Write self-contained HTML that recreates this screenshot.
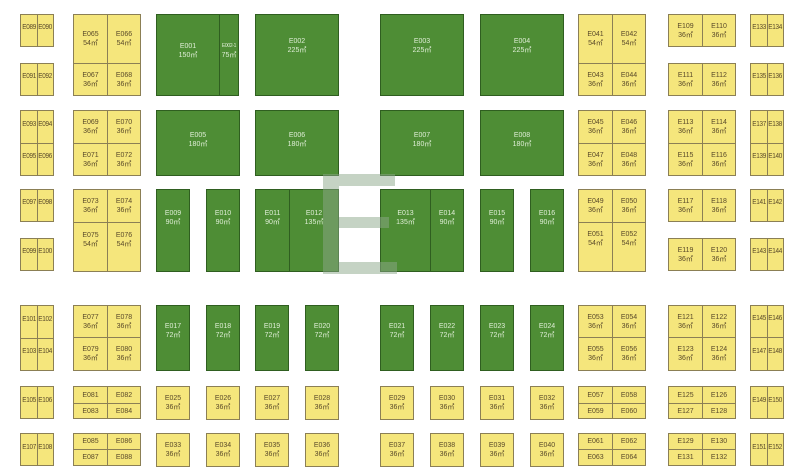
<!DOCTYPE html>
<html><head><meta charset="utf-8">
<style>
html,body{margin:0;padding:0;background:#fff;}
body{width:800px;height:472px;position:relative;overflow:hidden;font-family:"Liberation Sans",sans-serif;}
.c{position:absolute;box-sizing:border-box;display:flex;flex-direction:column;align-items:center;justify-content:center;text-align:center;font-size:7px;line-height:9px;white-space:nowrap;}
.y{background:#f5e67c;border:1px solid #8b7f55;color:#5a4a2a;}
.g{background:#4e8d35;border:1px solid #2f5e20;color:#dfeed6;}
.n{font-size:7.5px;letter-spacing:-0.3px;}
.n span{display:inline-block;transform:scaleX(0.85);}
svg{position:absolute;left:0;top:0;}
</style></head><body>

<!-- Column A -->
<div class="c y n" style="left:20px;top:14px;width:18px;height:33px;padding-bottom:8px"><span>E089</span></div>
<div class="c y n" style="left:37px;top:14px;width:17px;height:33px;padding-bottom:8px"><span>E090</span></div>
<div class="c y n" style="left:20px;top:63px;width:18px;height:33px;padding-bottom:8px"><span>E091</span></div>
<div class="c y n" style="left:37px;top:63px;width:17px;height:33px;padding-bottom:8px"><span>E092</span></div>
<div class="c y n" style="left:20px;top:110px;width:18px;height:34px;padding-bottom:8px"><span>E093</span></div>
<div class="c y n" style="left:37px;top:110px;width:17px;height:34px;padding-bottom:8px"><span>E094</span></div>
<div class="c y n" style="left:20px;top:143px;width:18px;height:33px;padding-bottom:8px"><span>E095</span></div>
<div class="c y n" style="left:37px;top:143px;width:17px;height:33px;padding-bottom:8px"><span>E096</span></div>
<div class="c y n" style="left:20px;top:189px;width:18px;height:33px;padding-bottom:8px"><span>E097</span></div>
<div class="c y n" style="left:37px;top:189px;width:17px;height:33px;padding-bottom:8px"><span>E098</span></div>
<div class="c y n" style="left:20px;top:238px;width:18px;height:33px;padding-bottom:8px"><span>E099</span></div>
<div class="c y n" style="left:37px;top:238px;width:17px;height:33px;padding-bottom:8px"><span>E100</span></div>
<div class="c y n" style="left:20px;top:305px;width:18px;height:34px;padding-bottom:8px"><span>E101</span></div>
<div class="c y n" style="left:37px;top:305px;width:17px;height:34px;padding-bottom:8px"><span>E102</span></div>
<div class="c y n" style="left:20px;top:338px;width:18px;height:33px;padding-bottom:8px"><span>E103</span></div>
<div class="c y n" style="left:37px;top:338px;width:17px;height:33px;padding-bottom:8px"><span>E104</span></div>
<div class="c y n" style="left:20px;top:386px;width:18px;height:33px;padding-bottom:6px"><span>E105</span></div>
<div class="c y n" style="left:37px;top:386px;width:17px;height:33px;padding-bottom:6px"><span>E106</span></div>
<div class="c y n" style="left:20px;top:433px;width:18px;height:33px;padding-bottom:6px"><span>E107</span></div>
<div class="c y n" style="left:37px;top:433px;width:17px;height:33px;padding-bottom:6px"><span>E108</span></div>

<!-- Column B -->
<div class="c y" style="left:73px;top:14px;width:35px;height:50px">E065<br>54㎡</div>
<div class="c y" style="left:107px;top:14px;width:34px;height:50px">E066<br>54㎡</div>
<div class="c y" style="left:73px;top:63px;width:35px;height:33px">E067<br>36㎡</div>
<div class="c y" style="left:107px;top:63px;width:34px;height:33px">E068<br>36㎡</div>
<div class="c y" style="left:73px;top:110px;width:35px;height:34px">E069<br>36㎡</div>
<div class="c y" style="left:107px;top:110px;width:34px;height:34px">E070<br>36㎡</div>
<div class="c y" style="left:73px;top:143px;width:35px;height:33px">E071<br>36㎡</div>
<div class="c y" style="left:107px;top:143px;width:34px;height:33px">E072<br>36㎡</div>
<div class="c y" style="left:73px;top:189px;width:35px;height:34px">E073<br>36㎡</div>
<div class="c y" style="left:107px;top:189px;width:34px;height:34px">E074<br>36㎡</div>
<div class="c y" style="left:73px;top:222px;width:35px;height:50px;padding-bottom:14px">E075<br>54㎡</div>
<div class="c y" style="left:107px;top:222px;width:34px;height:50px;padding-bottom:14px">E076<br>54㎡</div>
<div class="c y" style="left:73px;top:305px;width:35px;height:33px">E077<br>36㎡</div>
<div class="c y" style="left:107px;top:305px;width:34px;height:33px">E078<br>36㎡</div>
<div class="c y" style="left:73px;top:337px;width:35px;height:34px">E079<br>36㎡</div>
<div class="c y" style="left:107px;top:337px;width:34px;height:34px">E080<br>36㎡</div>
<div class="c y" style="left:73px;top:386px;width:35px;height:18px">E081</div>
<div class="c y" style="left:107px;top:386px;width:34px;height:18px">E082</div>
<div class="c y" style="left:73px;top:403px;width:35px;height:16px">E083</div>
<div class="c y" style="left:107px;top:403px;width:34px;height:16px">E084</div>
<div class="c y" style="left:73px;top:433px;width:35px;height:17px">E085</div>
<div class="c y" style="left:107px;top:433px;width:34px;height:17px">E086</div>
<div class="c y" style="left:73px;top:449px;width:35px;height:17px">E087</div>
<div class="c y" style="left:107px;top:449px;width:34px;height:17px">E088</div>

<!-- Green row 1 -->
<div class="c g" style="left:156px;top:14px;width:64px;height:82px;padding-bottom:8px">E001<br>150㎡</div>
<div class="c g" style="left:219px;top:14px;width:20px;height:82px;padding-bottom:8px"><span style="font-size:5px;letter-spacing:-0.3px">E002-1</span>75㎡</div>
<div class="c g" style="left:255px;top:14px;width:84px;height:82px;padding-bottom:18px">E002<br>225㎡</div>
<div class="c g" style="left:380px;top:14px;width:84px;height:82px;padding-bottom:18px">E003<br>225㎡</div>
<div class="c g" style="left:480px;top:14px;width:84px;height:82px;padding-bottom:18px">E004<br>225㎡</div>
<!-- Green row 2 -->
<div class="c g" style="left:156px;top:110px;width:84px;height:66px;padding-bottom:6px">E005<br>180㎡</div>
<div class="c g" style="left:255px;top:110px;width:84px;height:66px;padding-bottom:6px">E006<br>180㎡</div>
<div class="c g" style="left:380px;top:110px;width:84px;height:66px;padding-bottom:6px">E007<br>180㎡</div>
<div class="c g" style="left:480px;top:110px;width:84px;height:66px;padding-bottom:6px">E008<br>180㎡</div>
<!-- Green row 3 -->
<div class="c g" style="left:156px;top:189px;width:34px;height:83px;padding-bottom:26px">E009<br>90㎡</div>
<div class="c g" style="left:206px;top:189px;width:34px;height:83px;padding-bottom:26px">E010<br>90㎡</div>
<div class="c g" style="left:255px;top:189px;width:35px;height:83px;padding-bottom:26px">E011<br>90㎡</div>
<div class="c g" style="left:289px;top:189px;width:50px;height:83px;padding-bottom:26px">E012<br>135㎡</div>
<div class="c g" style="left:380px;top:189px;width:51px;height:83px;padding-bottom:26px">E013<br>135㎡</div>
<div class="c g" style="left:430px;top:189px;width:34px;height:83px;padding-bottom:26px">E014<br>90㎡</div>
<div class="c g" style="left:480px;top:189px;width:34px;height:83px;padding-bottom:26px">E015<br>90㎡</div>
<div class="c g" style="left:530px;top:189px;width:34px;height:83px;padding-bottom:26px">E016<br>90㎡</div>
<!-- Green row 4 -->
<div class="c g" style="left:156px;top:305px;width:34px;height:66px;padding-bottom:14px">E017<br>72㎡</div>
<div class="c g" style="left:206px;top:305px;width:34px;height:66px;padding-bottom:14px">E018<br>72㎡</div>
<div class="c g" style="left:255px;top:305px;width:34px;height:66px;padding-bottom:14px">E019<br>72㎡</div>
<div class="c g" style="left:305px;top:305px;width:34px;height:66px;padding-bottom:14px">E020<br>72㎡</div>
<div class="c g" style="left:380px;top:305px;width:34px;height:66px;padding-bottom:14px">E021<br>72㎡</div>
<div class="c g" style="left:430px;top:305px;width:34px;height:66px;padding-bottom:14px">E022<br>72㎡</div>
<div class="c g" style="left:480px;top:305px;width:34px;height:66px;padding-bottom:14px">E023<br>72㎡</div>
<div class="c g" style="left:530px;top:305px;width:34px;height:66px;padding-bottom:14px">E024<br>72㎡</div>
<!-- Yellow small row 5 -->
<div class="c y" style="left:156px;top:386px;width:34px;height:34px">E025<br>36㎡</div>
<div class="c y" style="left:206px;top:386px;width:34px;height:34px">E026<br>36㎡</div>
<div class="c y" style="left:255px;top:386px;width:34px;height:34px">E027<br>36㎡</div>
<div class="c y" style="left:305px;top:386px;width:34px;height:34px">E028<br>36㎡</div>
<div class="c y" style="left:380px;top:386px;width:34px;height:34px">E029<br>36㎡</div>
<div class="c y" style="left:430px;top:386px;width:34px;height:34px">E030<br>36㎡</div>
<div class="c y" style="left:480px;top:386px;width:34px;height:34px">E031<br>36㎡</div>
<div class="c y" style="left:530px;top:386px;width:34px;height:34px">E032<br>36㎡</div>
<!-- row 6 -->
<div class="c y" style="left:156px;top:433px;width:34px;height:34px">E033<br>36㎡</div>
<div class="c y" style="left:206px;top:433px;width:34px;height:34px">E034<br>36㎡</div>
<div class="c y" style="left:255px;top:433px;width:34px;height:34px">E035<br>36㎡</div>
<div class="c y" style="left:305px;top:433px;width:34px;height:34px">E036<br>36㎡</div>
<div class="c y" style="left:380px;top:433px;width:34px;height:34px">E037<br>36㎡</div>
<div class="c y" style="left:430px;top:433px;width:34px;height:34px">E038<br>36㎡</div>
<div class="c y" style="left:480px;top:433px;width:34px;height:34px">E039<br>36㎡</div>
<div class="c y" style="left:530px;top:433px;width:34px;height:34px">E040<br>36㎡</div>

<!-- Column C -->
<div class="c y" style="left:578px;top:14px;width:35px;height:50px">E041<br>54㎡</div>
<div class="c y" style="left:612px;top:14px;width:34px;height:50px">E042<br>54㎡</div>
<div class="c y" style="left:578px;top:63px;width:35px;height:33px">E043<br>36㎡</div>
<div class="c y" style="left:612px;top:63px;width:34px;height:33px">E044<br>36㎡</div>
<div class="c y" style="left:578px;top:110px;width:35px;height:34px">E045<br>36㎡</div>
<div class="c y" style="left:612px;top:110px;width:34px;height:34px">E046<br>36㎡</div>
<div class="c y" style="left:578px;top:143px;width:35px;height:33px">E047<br>36㎡</div>
<div class="c y" style="left:612px;top:143px;width:34px;height:33px">E048<br>36㎡</div>
<div class="c y" style="left:578px;top:189px;width:35px;height:34px">E049<br>36㎡</div>
<div class="c y" style="left:612px;top:189px;width:34px;height:34px">E050<br>36㎡</div>
<div class="c y" style="left:578px;top:222px;width:35px;height:50px;padding-bottom:16px">E051<br>54㎡</div>
<div class="c y" style="left:612px;top:222px;width:34px;height:50px;padding-bottom:16px">E052<br>54㎡</div>
<div class="c y" style="left:578px;top:305px;width:35px;height:33px">E053<br>36㎡</div>
<div class="c y" style="left:612px;top:305px;width:34px;height:33px">E054<br>36㎡</div>
<div class="c y" style="left:578px;top:337px;width:35px;height:34px">E055<br>36㎡</div>
<div class="c y" style="left:612px;top:337px;width:34px;height:34px">E056<br>36㎡</div>
<div class="c y" style="left:578px;top:386px;width:35px;height:18px">E057</div>
<div class="c y" style="left:612px;top:386px;width:34px;height:18px">E058</div>
<div class="c y" style="left:578px;top:403px;width:35px;height:16px">E059</div>
<div class="c y" style="left:612px;top:403px;width:34px;height:16px">E060</div>
<div class="c y" style="left:578px;top:433px;width:35px;height:17px">E061</div>
<div class="c y" style="left:612px;top:433px;width:34px;height:17px">E062</div>
<div class="c y" style="left:578px;top:449px;width:35px;height:17px">E063</div>
<div class="c y" style="left:612px;top:449px;width:34px;height:17px">E064</div>

<!-- Column D -->
<div class="c y" style="left:668px;top:14px;width:35px;height:33px">E109<br>36㎡</div>
<div class="c y" style="left:702px;top:14px;width:34px;height:33px">E110<br>36㎡</div>
<div class="c y" style="left:668px;top:63px;width:35px;height:33px">E111<br>36㎡</div>
<div class="c y" style="left:702px;top:63px;width:34px;height:33px">E112<br>36㎡</div>
<div class="c y" style="left:668px;top:110px;width:35px;height:34px">E113<br>36㎡</div>
<div class="c y" style="left:702px;top:110px;width:34px;height:34px">E114<br>36㎡</div>
<div class="c y" style="left:668px;top:143px;width:35px;height:33px">E115<br>36㎡</div>
<div class="c y" style="left:702px;top:143px;width:34px;height:33px">E116<br>36㎡</div>
<div class="c y" style="left:668px;top:189px;width:35px;height:33px">E117<br>36㎡</div>
<div class="c y" style="left:702px;top:189px;width:34px;height:33px">E118<br>36㎡</div>
<div class="c y" style="left:668px;top:238px;width:35px;height:33px">E119<br>36㎡</div>
<div class="c y" style="left:702px;top:238px;width:34px;height:33px">E120<br>36㎡</div>
<div class="c y" style="left:668px;top:305px;width:35px;height:33px">E121<br>36㎡</div>
<div class="c y" style="left:702px;top:305px;width:34px;height:33px">E122<br>36㎡</div>
<div class="c y" style="left:668px;top:337px;width:35px;height:34px">E123<br>36㎡</div>
<div class="c y" style="left:702px;top:337px;width:34px;height:34px">E124<br>36㎡</div>
<div class="c y" style="left:668px;top:386px;width:35px;height:18px">E125</div>
<div class="c y" style="left:702px;top:386px;width:34px;height:18px">E126</div>
<div class="c y" style="left:668px;top:403px;width:35px;height:16px">E127</div>
<div class="c y" style="left:702px;top:403px;width:34px;height:16px">E128</div>
<div class="c y" style="left:668px;top:433px;width:35px;height:17px">E129</div>
<div class="c y" style="left:702px;top:433px;width:34px;height:17px">E130</div>
<div class="c y" style="left:668px;top:449px;width:35px;height:17px">E131</div>
<div class="c y" style="left:702px;top:449px;width:34px;height:17px">E132</div>

<!-- Column E -->
<div class="c y n" style="left:750px;top:14px;width:18px;height:33px;padding-bottom:8px"><span>E133</span></div>
<div class="c y n" style="left:767px;top:14px;width:17px;height:33px;padding-bottom:8px"><span>E134</span></div>
<div class="c y n" style="left:750px;top:63px;width:18px;height:33px;padding-bottom:8px"><span>E135</span></div>
<div class="c y n" style="left:767px;top:63px;width:17px;height:33px;padding-bottom:8px"><span>E136</span></div>
<div class="c y n" style="left:750px;top:110px;width:18px;height:34px;padding-bottom:8px"><span>E137</span></div>
<div class="c y n" style="left:767px;top:110px;width:17px;height:34px;padding-bottom:8px"><span>E138</span></div>
<div class="c y n" style="left:750px;top:143px;width:18px;height:33px;padding-bottom:8px"><span>E139</span></div>
<div class="c y n" style="left:767px;top:143px;width:17px;height:33px;padding-bottom:8px"><span>E140</span></div>
<div class="c y n" style="left:750px;top:189px;width:18px;height:33px;padding-bottom:8px"><span>E141</span></div>
<div class="c y n" style="left:767px;top:189px;width:17px;height:33px;padding-bottom:8px"><span>E142</span></div>
<div class="c y n" style="left:750px;top:238px;width:18px;height:33px;padding-bottom:8px"><span>E143</span></div>
<div class="c y n" style="left:767px;top:238px;width:17px;height:33px;padding-bottom:8px"><span>E144</span></div>
<div class="c y n" style="left:750px;top:305px;width:18px;height:33px;padding-bottom:8px"><span>E145</span></div>
<div class="c y n" style="left:767px;top:305px;width:17px;height:33px;padding-bottom:8px"><span>E146</span></div>
<div class="c y n" style="left:750px;top:337px;width:18px;height:34px;padding-bottom:8px"><span>E147</span></div>
<div class="c y n" style="left:767px;top:337px;width:17px;height:34px;padding-bottom:8px"><span>E148</span></div>
<div class="c y n" style="left:750px;top:386px;width:18px;height:33px;padding-bottom:6px"><span>E149</span></div>
<div class="c y n" style="left:767px;top:386px;width:17px;height:33px;padding-bottom:6px"><span>E150</span></div>
<div class="c y n" style="left:750px;top:433px;width:18px;height:33px;padding-bottom:6px"><span>E151</span></div>
<div class="c y n" style="left:767px;top:433px;width:17px;height:33px;padding-bottom:6px"><span>E152</span></div>

<svg width="800" height="472" viewBox="0 0 800 472">
<g opacity="0.5" fill="#8ca88a">
<rect x="323" y="174" width="72" height="12"/>
<rect x="323" y="174" width="16" height="100"/>
<rect x="339" y="217" width="50" height="11"/>
<rect x="323" y="262" width="74" height="12"/>
</g>
</svg>
</body></html>
